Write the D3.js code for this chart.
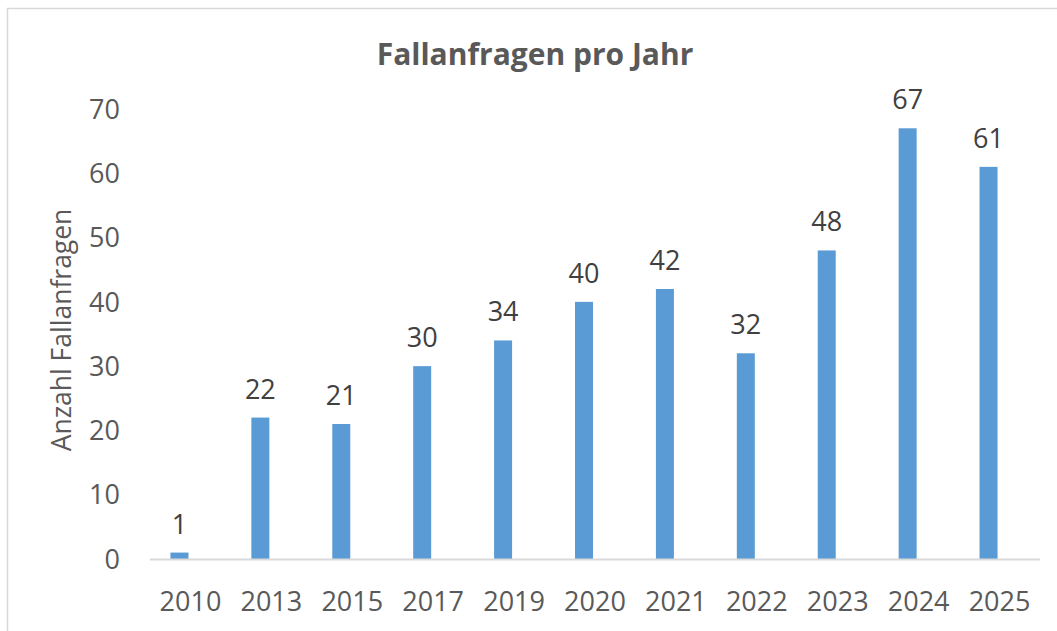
<!DOCTYPE html>
<html>
<head>
<meta charset="utf-8">
<title>Fallanfragen pro Jahr</title>
<style>
  body { margin: 0; background: #fff; }
  text { font-family: "Open Sans", sans-serif; }
</style>
</head>
<body>
<svg width="1057" height="631"></svg>
<script src="https://d3js.org/d3.v7.min.js"></script>
<script>
// data
const years = ["2010", "2013", "2015", "2017", "2019", "2020", "2021", "2022", "2023", "2024", "2025"]
const counts = [1, 22, 21, 30, 34, 40, 42, 32, 48, 67, 61]
const yTicks = [0, 10, 20, 30, 40, 50, 60, 70]

const svg = d3.select("svg")
const W = 1057, H = 631
const plotLeft = 150, plotRight = 1040, plotTop = 109, plotBottom = 559

// chart frame (runs off the right/bottom edge like the screenshot)
svg.append("rect")
    .attr("x", 7.5).attr("y", 8.5)
    .attr("width", W + 10).attr("height", H + 10)
    .attr("fill", "#fff")
    .attr("stroke", "#d9d9d9")
    .attr("stroke-width", 1.5)

const x = d3.scaleBand()
    .domain(years)
    .range([plotLeft, plotRight])

const y = d3.scaleLinear()
    .domain([0, 70])
    .range([plotBottom, plotTop])

const barW = 18
const barShift = -11 // excel puts the bar a bit left of the category centre

// y tick labels
svg.append("g")
  .selectAll("text")
  .data(yTicks)
  .join("text")
    .attr("x", 120)
    .attr("y", d => y(d))
    .attr("dy", "0.36em")
    .attr("text-anchor", "end")
    .attr("fill", "#595959")
    .attr("font-size", 27)
    .text(d => d)

// bars
svg.append("g")
  .selectAll("rect")
  .data(counts)
  .join("rect")
    .attr("x", (d, i) => x(years[i]) + x.bandwidth() / 2 + barShift - barW / 2)
    .attr("y", d => y(d))
    .attr("width", barW)
    .attr("height", d => y(0) - y(d))
    .attr("fill", "#5b9bd5")

// baseline
svg.append("line")
    .attr("x1", plotLeft).attr("x2", plotRight)
    .attr("y1", y(0) + 0.5).attr("y2", y(0) + 0.5)
    .attr("stroke", "#d9d9d9")
    .attr("stroke-width", 2)

// value labels
svg.append("g")
  .selectAll("text")
  .data(counts)
  .join("text")
    .attr("x", (d, i) => x(years[i]) + x.bandwidth() / 2 + barShift)
    .attr("y", d => y(d) - 19)
    .attr("text-anchor", "middle")
    .attr("fill", "#404040")
    .attr("font-size", 27)
    .text(d => d)

// x labels
svg.append("g")
  .selectAll("text")
  .data(years)
  .join("text")
    .attr("x", d => x(d) + x.bandwidth() / 2)
    .attr("y", 611)
    .attr("text-anchor", "middle")
    .attr("fill", "#595959")
    .attr("font-size", 27)
    .text(d => d)

// title
svg.append("text")
    .attr("x", 535)
    .attr("y", 65)
    .attr("text-anchor", "middle")
    .attr("fill", "#595959")
    .attr("font-size", 30)
    .attr("font-weight", "bold")
    .text("Fallanfragen pro Jahr")

// y axis title
svg.append("text")
    .attr("transform", "translate(71,330) rotate(-90)")
    .attr("text-anchor", "middle")
    .attr("fill", "#595959")
    .attr("font-size", 26.5)
    .text("Anzahl Fallanfragen")
</script>
</body>
</html>
